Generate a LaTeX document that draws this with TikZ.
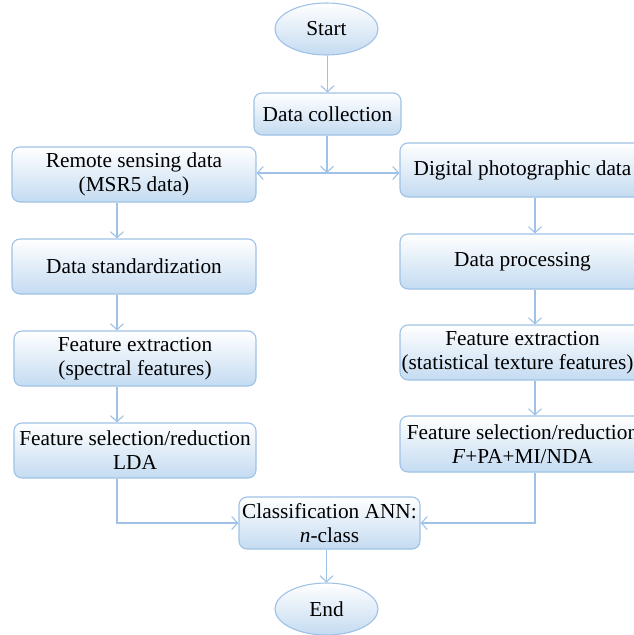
\documentclass[tikz,border=0pt]{standalone}
\usepackage{fontspec}
\setmainfont{Liberation Serif}
\usetikzlibrary{arrows.meta,shapes.geometric}
\definecolor{edgeblue}{HTML}{9FC2E6}
\definecolor{fillblue}{HTML}{C4DBF1}
\begin{document}
\begin{tikzpicture}[x=1pt,y=-1pt,
  every node/.style={font=\fontsize{21.3}{24}\selectfont, text=black},
  boxnode/.style={draw=edgeblue, line width=1.1pt, rounded corners=8pt,
    top color=white, bottom color=fillblue, align=center, inner sep=0pt},
  ovalnode/.style={ellipse, draw=edgeblue, line width=1.1pt,
    top color=white, bottom color=fillblue, minimum width=103pt, minimum height=52pt, inner sep=0pt},
  conn/.style={draw=edgeblue, line width=1.1pt},
  arr/.style={conn, -{Straight Barb[length=6pt,width=13pt,line width=1.1pt]}},
  darr/.style={conn, {Straight Barb[length=6pt,width=13pt,line width=1.1pt]}-{Straight Barb[length=6pt,width=13pt,line width=1.1pt]}}
]
\useasboundingbox (0,0) rectangle (634,635);
\clip (0,0) rectangle (634,635);
\node[ovalnode] (start) at (326.5,29) {Start};
\node[boxnode, minimum width=147pt, minimum height=42pt] (dc) at (327.5,114) {Data collection};
\node[boxnode, minimum width=244pt, minimum height=55pt] (rs) at (134,174.5) {Remote sensing data\\(MSR5 data)};
\node[boxnode, minimum width=245pt, minimum height=54pt] (dp) at (522.5,170) {Digital photographic data};
\node[boxnode, minimum width=244pt, minimum height=55pt] (ds) at (134,266.5) {Data standardization};
\node[boxnode, minimum width=245pt, minimum height=55pt] (proc) at (522.5,261.5) {Data processing};
\node[boxnode, minimum width=245pt, minimum height=55pt] (fe2) at (522.5,352.5) {Feature extraction\\(statistical texture features)\hspace*{10pt}};
\node[boxnode, minimum width=242pt, minimum height=55pt] (fe) at (135,358.5) {Feature extraction\\(spectral features)};
\node[boxnode, minimum width=242pt, minimum height=55pt] (fs) at (135,450.5) {Feature selection/reduction\\LDA};
\node[boxnode, minimum width=245pt, minimum height=56pt] (fs2) at (522.5,444) {Feature selection/reduction\\\textit{F}+PA+MI/NDA};
\node[boxnode, minimum width=181pt, minimum height=52pt] (cls) at (329.5,523) {Classification ANN:\\\textit{n}-class};
\node[ovalnode] (end) at (326.5,609) {End};
\coordinate (j) at (327,173);
\coordinate (xl) at (117,0);
\coordinate (xr) at (535,0);
\draw[arr] (start.south -| dc.north) -- (dc.north);
\draw[arr] (dc.south -| j) -- (j);
\draw[darr] (j -| rs.east) -- (j -| dp.west);
\draw[arr] (rs.south -| xl) -- (ds.north -| xl);
\draw[arr] (ds.south -| xl) -- (fe.north -| xl);
\draw[arr] (fe.south -| xl) -- (fs.north -| xl);
\draw[arr] (dp.south -| xr) -- (proc.north -| xr);
\draw[arr] (proc.south -| xr) -- (fe2.north -| xr);
\draw[arr] (fe2.south -| xr) -- (fs2.north -| xr);
\draw[arr] (fs.south -| xl) |- (cls.west);
\draw[arr] (fs2.south -| xr) |- (cls.east);
\draw[arr] (cls.south -| end.north) -- (end.north);
\end{tikzpicture}
\end{document}
